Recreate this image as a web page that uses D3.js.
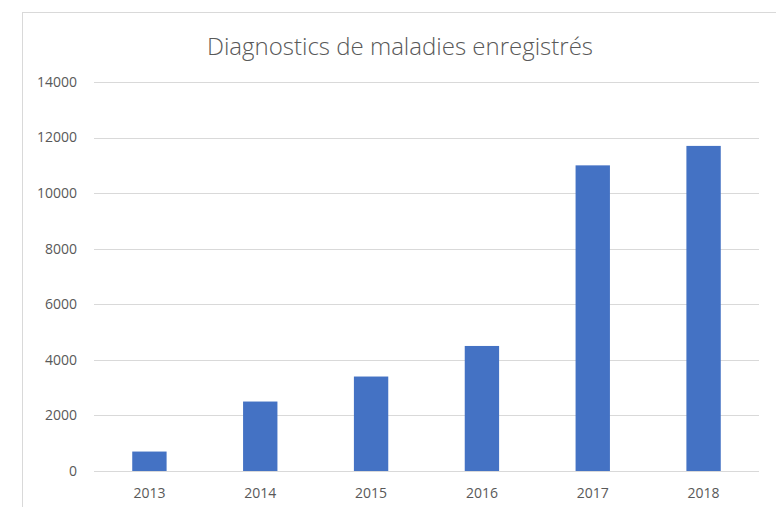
<!DOCTYPE html>
<html>
<head>
<meta charset="utf-8">
<script src="https://cdn.jsdelivr.net/npm/d3@7"></script>
<style>
  body { margin: 0; background: #fff; }
  text { font-family: "Open Sans", "Noto Sans", sans-serif; fill: #595959; }
</style>
</head>
<body>
<div class="canvas"></div>
<script>
const years = ['2013', '2014', '2015', '2016', '2017', '2018'];
const cases = [700, 2500, 3400, 4500, 11000, 11700];
const yTicks = [0, 2000, 4000, 6000, 8000, 10000, 12000, 14000];

const svg = d3.select('.canvas')
    .append('svg')
    .attr('width', 776)
    .attr('height', 507);

// chart frame (cut off at right and bottom)
svg.append('rect')
    .attr('x', 22.5).attr('y', 12.5)
    .attr('width', 800).attr('height', 600)
    .attr('fill', 'none')
    .attr('stroke', '#d9d9d9');

const plotLeft = 94, plotRight = 759, plotTop = 82, plotBottom = 471;

const y = d3.scaleLinear()
    .domain([0, 14000])
    .range([plotBottom, plotTop]);

const x = d3.scaleBand()
    .domain(years)
    .range([plotLeft, plotRight])
    .paddingInner(0.69)
    .paddingOuter(0.345);

// gridlines
svg.selectAll('line.grid')
    .data(yTicks)
    .enter()
    .append('line')
    .attr('x1', plotLeft).attr('x2', plotRight)
    .attr('y1', d => Math.round(y(d)) + 0.5)
    .attr('y2', d => Math.round(y(d)) + 0.5)
    .attr('stroke', '#d9d9d9')
    .attr('stroke-width', 1);

svg.selectAll('text.ytick')
    .data(yTicks)
    .enter()
    .append('text')
    .attr('x', 77)
    .attr('y', d => y(d))
    .attr('dy', '0.35em')
    .attr('text-anchor', 'end')
    .attr('font-size', 14)
    .text(d => d);

svg.selectAll('rect.bar')
    .data(cases)
    .enter()
    .append('rect')
    .attr('x', (d, i) => x(years[i]))
    .attr('y', d => y(d))
    .attr('width', x.bandwidth())
    .attr('height', d => plotBottom - y(d))
    .attr('fill', '#4472c4');

svg.selectAll('text.xtick')
    .data(years)
    .enter()
    .append('text')
    .attr('x', d => x(d) + x.bandwidth() / 2)
    .attr('y', 498)
    .attr('text-anchor', 'middle')
    .attr('font-size', 14)
    .text(d => d);

svg.append('text')
    .attr('x', 400)
    .attr('y', 55)
    .attr('text-anchor', 'middle')
    .attr('font-size', 24)
    .attr('font-weight', 300)
    .text('Diagnostics de maladies enregistrés');
</script>
</body>
</html>
